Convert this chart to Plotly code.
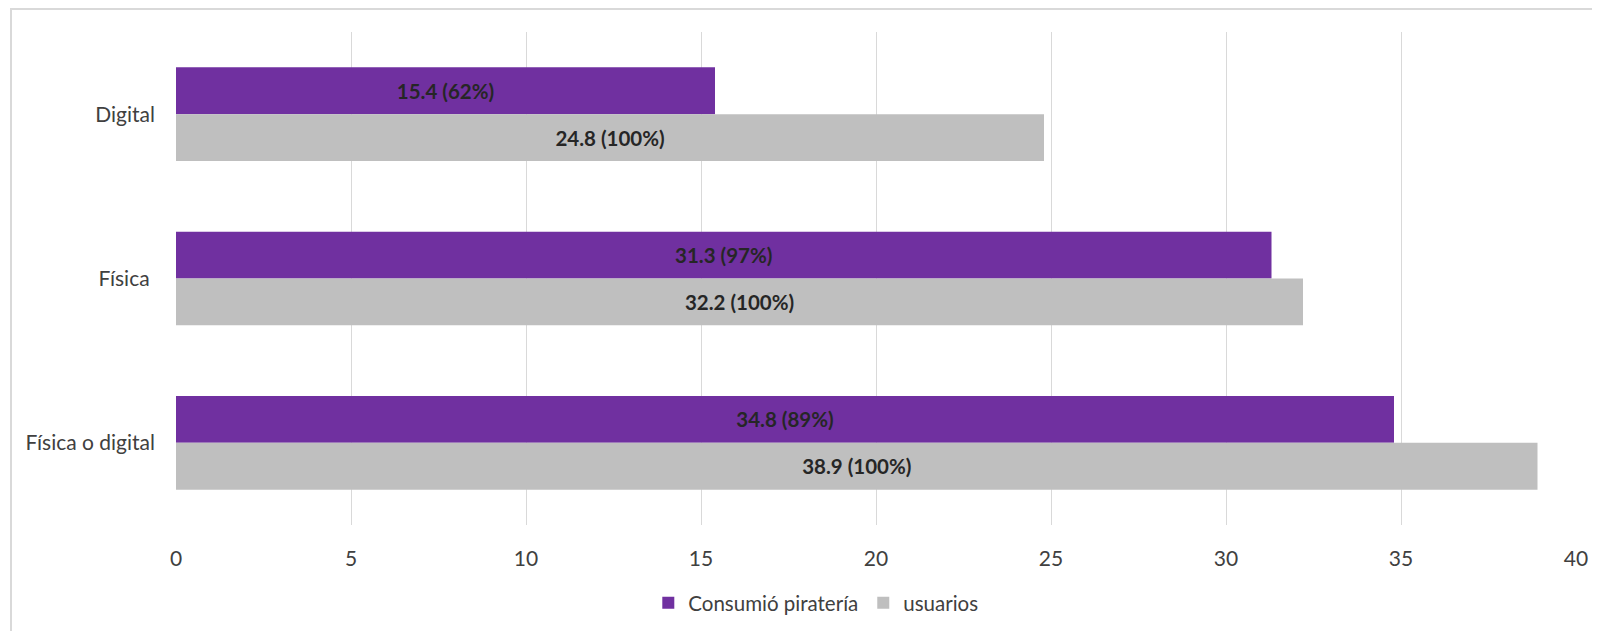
import plotly.graph_objects as go

categories = ["Digital", "Física ", "Física o digital"]
pirateria = [15.4, 31.3, 34.8]
pirateria_pct = ["62%", "97%", "89%"]
usuarios = [24.8, 32.2, 38.9]
usuarios_pct = ["100%", "100%", "100%"]
x_ticks = [0, 5, 10, 15, 20, 25, 30, 35, 40]

PURPLE = "#7030A0"
GRAY = "#BFBFBF"
FONT = "Lato"
TXT = "#404040"

fig = go.Figure()
fig.add_trace(go.Bar(
    y=categories, x=pirateria, orientation="h", name="Consumió piratería",
    marker=dict(color=PURPLE, line=dict(width=0)),
    text=[f"<b>{v} ({p})</b>" for v, p in zip(pirateria, pirateria_pct)],
    textposition="inside", insidetextanchor="middle",
    textfont=dict(family=FONT, size=20.5, color="#262626"),
    hoverinfo="x+y",
))
fig.add_trace(go.Bar(
    y=categories, x=usuarios, orientation="h", name="usuarios",
    marker=dict(color=GRAY, line=dict(width=0)),
    text=[f"<b>{v} ({p})</b>" for v, p in zip(usuarios, usuarios_pct)],
    textposition="inside", insidetextanchor="middle",
    textfont=dict(family=FONT, size=20.5, color="#262626"),
    hoverinfo="x+y",
))

fig.update_layout(
    width=1600, height=631,
    margin=dict(l=168, r=32, t=24, b=114),
    paper_bgcolor="white", plot_bgcolor="white",
    barmode="group", bargap=0.43, bargroupgap=0,
    font=dict(family=FONT, size=21, color=TXT),
    legend=dict(orientation="h", x=0.457, xanchor="center", y=-0.158, yanchor="middle",
                traceorder="normal", font=dict(size=20.5, color=TXT),
                itemwidth=30),
    xaxis=dict(range=[0, 40], tickvals=x_ticks, showgrid=True, gridcolor="#D9D9D9",
               gridwidth=1, zeroline=False, showline=False, ticks="",
               ticklabelstandoff=19, tickfont=dict(size=21, color=TXT)),
    yaxis=dict(autorange="reversed", showgrid=False, zeroline=False, showline=False,
               ticks="", ticklabelstandoff=20, tickfont=dict(size=21, color=TXT)),
    showlegend=True,
)

# outer chart frame (light gray border)
fig.add_shape(type="rect", xref="paper", yref="paper",
              x0=(3 - 168) / 1400, x1=1.1, y0=-0.5, y1=(517 - 1) / 493,
              line=dict(color="#D9D9D9", width=2), fillcolor="rgba(0,0,0,0)", layer="below")

fig.write_html("out.html")
